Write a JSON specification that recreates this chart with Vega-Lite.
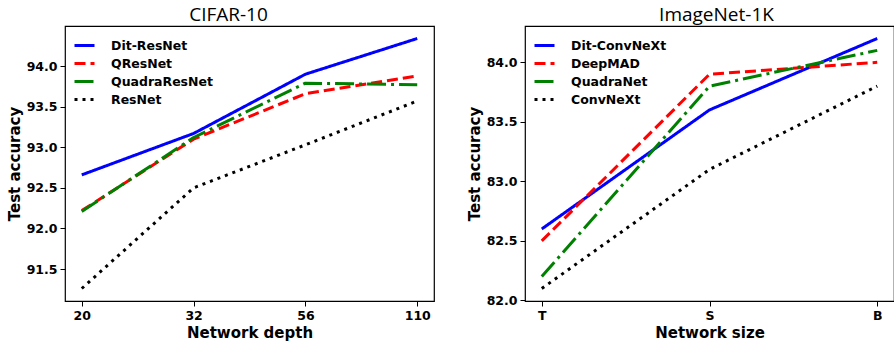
{
  "$schema": "https://vega.github.io/schema/vega-lite/v6.json",
  "padding": {"left": 6, "top": 5, "right": 0, "bottom": 0},
  "datasets": {
    "cifar": [
      {"depth": "20", "model": "Dit-ResNet", "acc": 92.66},
      {"depth": "32", "model": "Dit-ResNet", "acc": 93.17},
      {"depth": "56", "model": "Dit-ResNet", "acc": 93.9},
      {"depth": "110", "model": "Dit-ResNet", "acc": 94.34},
      {"depth": "20", "model": "QResNet", "acc": 92.22},
      {"depth": "32", "model": "QResNet", "acc": 93.1},
      {"depth": "56", "model": "QResNet", "acc": 93.66},
      {"depth": "110", "model": "QResNet", "acc": 93.88},
      {"depth": "20", "model": "QuadraResNet", "acc": 92.21},
      {"depth": "32", "model": "QuadraResNet", "acc": 93.12},
      {"depth": "56", "model": "QuadraResNet", "acc": 93.79},
      {"depth": "110", "model": "QuadraResNet", "acc": 93.77},
      {"depth": "20", "model": "ResNet", "acc": 91.26},
      {"depth": "32", "model": "ResNet", "acc": 92.5},
      {"depth": "56", "model": "ResNet", "acc": 93.03},
      {"depth": "110", "model": "ResNet", "acc": 93.57}
    ],
    "imagenet": [
      {"size": "T", "model": "Dit-ConvNeXt", "acc": 82.6},
      {"size": "S", "model": "Dit-ConvNeXt", "acc": 83.6},
      {"size": "B", "model": "Dit-ConvNeXt", "acc": 84.2},
      {"size": "T", "model": "DeepMAD", "acc": 82.5},
      {"size": "S", "model": "DeepMAD", "acc": 83.9},
      {"size": "B", "model": "DeepMAD", "acc": 84.0},
      {"size": "T", "model": "QuadraNet", "acc": 82.2},
      {"size": "S", "model": "QuadraNet", "acc": 83.8},
      {"size": "B", "model": "QuadraNet", "acc": 84.1},
      {"size": "T", "model": "ConvNeXt", "acc": 82.1},
      {"size": "S", "model": "ConvNeXt", "acc": 83.1},
      {"size": "B", "model": "ConvNeXt", "acc": 83.8}
    ]
  },
  "spacing": 31,
  "hconcat": [
    {
      "width": 369,
      "height": 275,
      "title": {"text": "CIFAR-10", "dx": -21},
      "data": {"name": "cifar"},
      "mark": {"type": "line", "strokeWidth": 3, "strokeCap": "butt", "strokeJoin": "round"},
      "encoding": {
        "x": {"field": "depth", "type": "ordinal", "sort": ["20", "32", "56", "110"], "scale": {"type": "point", "padding": 0.15}, "axis": {"title": "Network depth", "labelAngle": 0}},
        "y": {"field": "acc", "type": "quantitative", "scale": {"domain": [91.106, 94.494], "nice": false, "zero": false}, "axis": {"title": "Test accuracy", "values": [91.5, 92, 92.5, 93, 93.5, 94], "format": ".1f"}},
        "color": {"field": "model", "type": "nominal", "scale": {"domain": ["Dit-ResNet", "QResNet", "QuadraResNet", "ResNet"], "range": ["#0000ff", "#ff0000", "#008000", "#000000"]}, "legend": {"title": null}},
        "strokeDash": {"field": "model", "type": "nominal", "scale": {"domain": ["Dit-ResNet", "QResNet", "QuadraResNet", "ResNet"], "range": [[1, 0], [11, 5], [19, 5, 3, 5], [3, 5]]}, "legend": {"title": null}}
      }
    },
    {
      "width": 369,
      "height": 275,
      "title": {"text": "ImageNet-1K", "dx": 7},
      "data": {"name": "imagenet"},
      "mark": {"type": "line", "strokeWidth": 3, "strokeCap": "butt", "strokeJoin": "round"},
      "encoding": {
        "x": {"field": "size", "type": "ordinal", "sort": ["T", "S", "B"], "scale": {"type": "point", "padding": 0.1}, "axis": {"title": "Network size", "labelAngle": 0}},
        "y": {"field": "acc", "type": "quantitative", "scale": {"domain": [81.995, 84.305], "nice": false, "zero": false}, "axis": {"title": "Test accuracy", "values": [82, 82.5, 83, 83.5, 84], "format": ".1f"}},
        "color": {"field": "model", "type": "nominal", "scale": {"domain": ["Dit-ConvNeXt", "DeepMAD", "QuadraNet", "ConvNeXt"], "range": ["#0000ff", "#ff0000", "#008000", "#000000"]}, "legend": {"title": null}},
        "strokeDash": {"field": "model", "type": "nominal", "scale": {"domain": ["Dit-ConvNeXt", "DeepMAD", "QuadraNet", "ConvNeXt"], "range": [[1, 0], [11, 5], [19, 5, 3, 5], [3, 5]]}, "legend": {"title": null}}
      }
    }
  ],
  "resolve": {
    "scale": {"color": "independent", "strokeDash": "independent", "x": "independent", "y": "independent"},
    "legend": {"color": "independent", "strokeDash": "independent"}
  },
  "config": {
    "view": {"stroke": "#000000", "strokeWidth": 1.2},
    "title": {"font": "Open Sans", "fontSize": 19, "fontWeight": "normal", "color": "#000000", "offset": 1, "anchor": "middle"},
    "axis": {
      "grid": false,
      "domain": false,
      "labelFont": "DejaVu Sans",
      "labelFontWeight": "bold",
      "labelFontSize": 12.5,
      "labelColor": "#000000",
      "labelPadding": 3,
      "titleFont": "DejaVu Sans",
      "titleFontWeight": "bold",
      "titleFontSize": 15,
      "titleColor": "#000000",
      "titlePadding": 4,
      "tickColor": "#000000",
      "tickSize": 5,
      "tickWidth": 1
    },
    "legend": {
      "orient": "top-left",
      "offset": 8,
      "padding": 0,
      "labelFont": "DejaVu Sans",
      "labelFontWeight": "bold",
      "labelFontSize": 12.5,
      "labelColor": "#000000",
      "labelOffset": 15,
      "symbolType": "stroke",
      "symbolSize": 400,
      "symbolStrokeWidth": 3,
      "rowPadding": -2
    }
  }
}
